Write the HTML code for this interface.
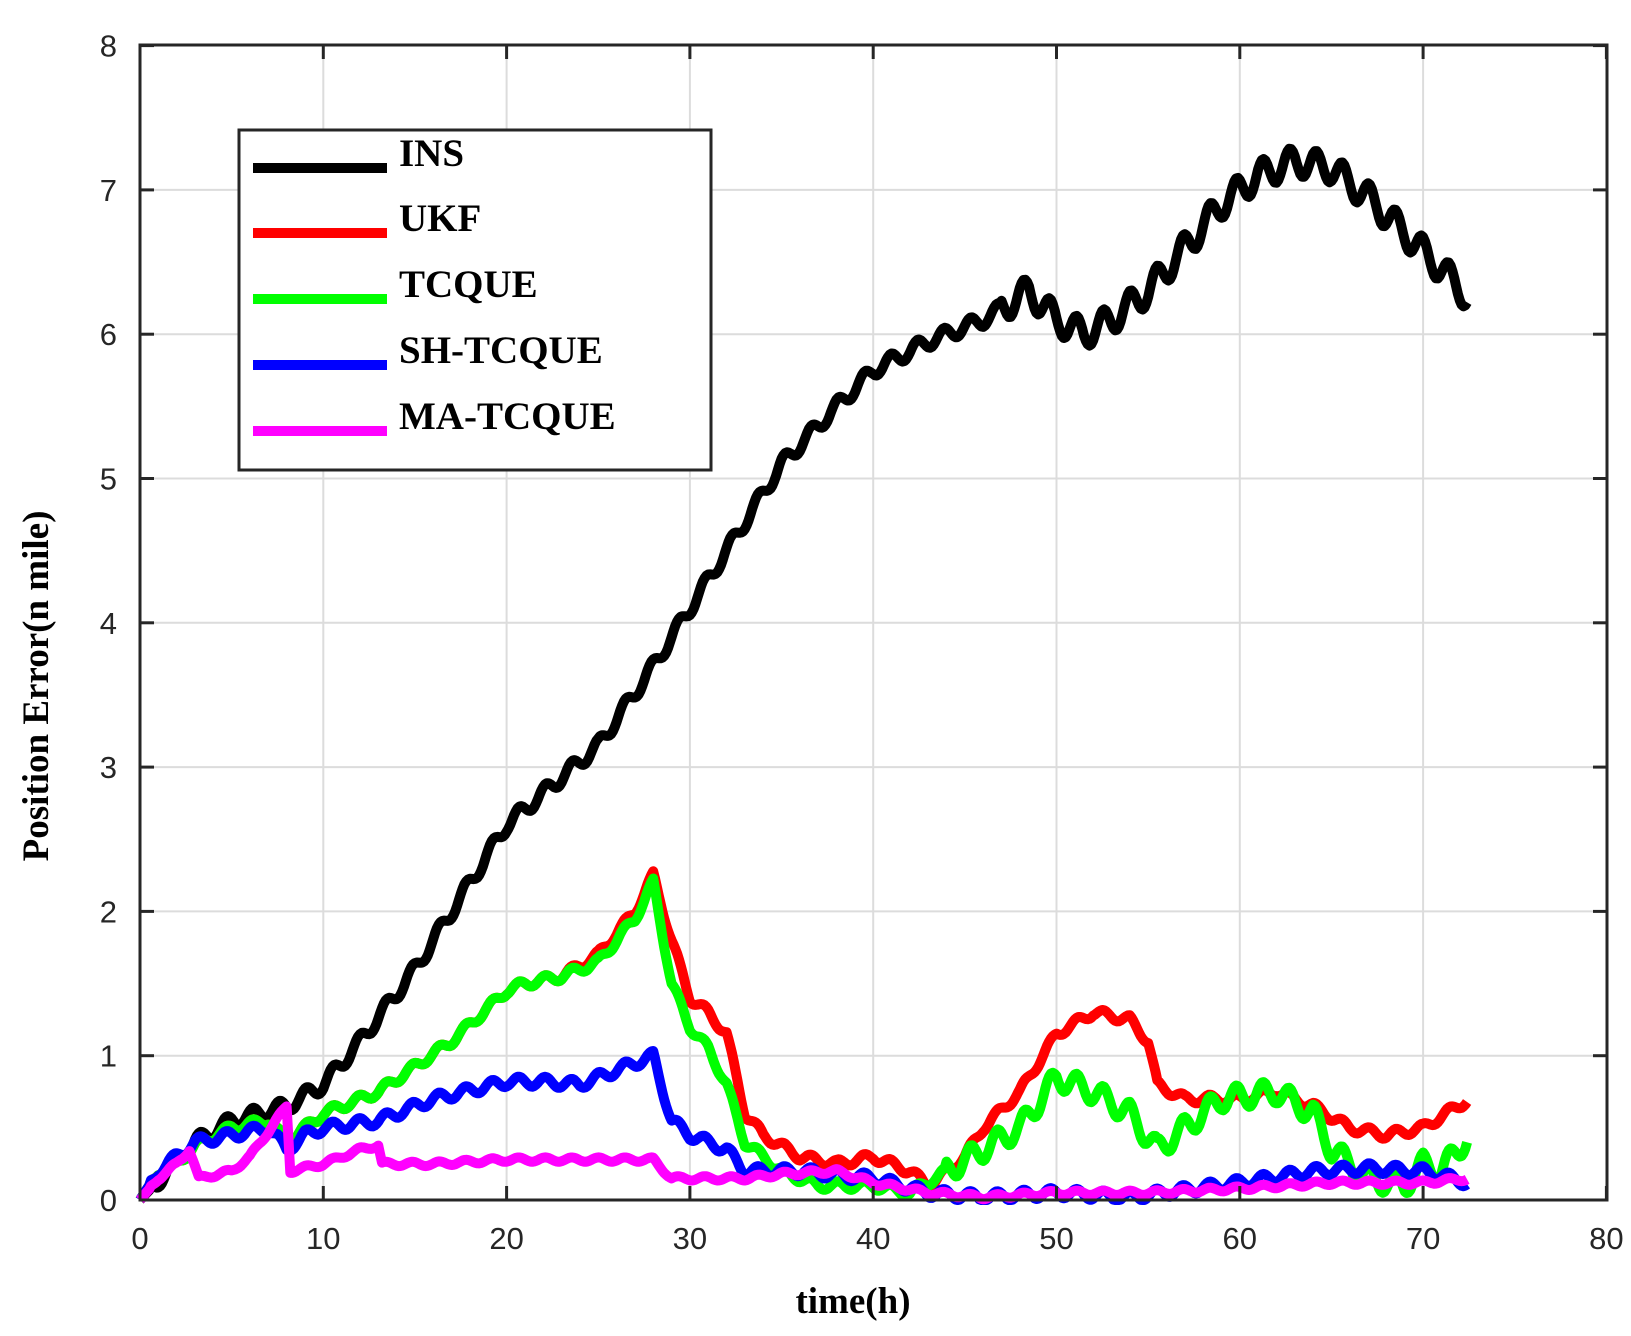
<!DOCTYPE html><html><head><style>body{margin:0;background:#fff}</style></head><body>
<svg id="s" width="1631" height="1331" xmlns="http://www.w3.org/2000/svg">
<g id="grid" stroke="#dcdcdc" stroke-width="2"></g>
<g id="ser" fill="none" stroke-width="10" stroke-linejoin="round" stroke-linecap="butt"></g>
<rect x="140" y="45" width="1467" height="1155" fill="none" stroke="#262626" stroke-width="3"/>
<g id="ticks" stroke="#262626" stroke-width="3"></g>
<g id="lab" font-family="Liberation Sans, sans-serif" font-size="31" fill="#262626"></g>
<text x="853" y="1313" font-family="Liberation Serif, serif" font-weight="bold" font-size="37" text-anchor="middle">time(h)</text>
<text transform="translate(48,686) rotate(-90)" font-family="Liberation Serif, serif" font-weight="bold" font-size="37" text-anchor="middle">Position Error(n mile)</text>
<rect x="239" y="130" width="472" height="340" fill="#fff" stroke="#262626" stroke-width="3"/>
<g font-family="Liberation Serif, serif" font-weight="bold" font-size="39">
<line x1="253" y1="168" x2="387" y2="168" stroke="#000" stroke-width="10"/><text x="399" y="166">INS</text>
<line x1="253" y1="233" x2="387" y2="233" stroke="#f00" stroke-width="10"/><text x="399" y="231">UKF</text>
<line x1="253" y1="299" x2="387" y2="299" stroke="#0f0" stroke-width="10"/><text x="399" y="297">TCQUE</text>
<line x1="253" y1="365" x2="387" y2="365" stroke="#00f" stroke-width="10"/><text x="399" y="363">SH-TCQUE</text>
<line x1="253" y1="431" x2="387" y2="431" stroke="#f0f" stroke-width="10"/><text x="399" y="429">MA-TCQUE</text>
</g>
</svg>
<script>
const X=t=>140+18.33*t, Y=v=>1200-144.3*v, NS="http://www.w3.org/2000/svg";
function el(p,n,a,txt){const e=document.createElementNS(NS,n);for(const k in a)e.setAttribute(k,a[k]);if(txt!=null)e.textContent=txt;document.getElementById(p).appendChild(e);}
for(let i=1;i<8;i++){el("grid","line",{x1:X(i*10),x2:X(i*10),y1:45,y2:1200});el("grid","line",{x1:140,x2:1607,y1:Y(i),y2:Y(i)});}
for(let i=0;i<=8;i++){el("ticks","line",{x1:X(i*10),x2:X(i*10),y1:1200,y2:1186});el("ticks","line",{x1:X(i*10),x2:X(i*10),y1:45,y2:59});
el("ticks","line",{x1:140,x2:154,y1:Y(i),y2:Y(i)});el("ticks","line",{x1:1593,x2:1607,y1:Y(i),y2:Y(i)});
el("lab","text",{x:X(i*10),y:1249,"text-anchor":"middle"},String(i*10));el("lab","text",{x:117,y:Y(i)+11,"text-anchor":"end"},String(i));}
function interp(k,t){for(let i=0;i<k.length-1;i++){if(t<=k[i+1][0]){const a=k[i],b=k[i+1];return a[1]+(b[1]-a[1])*(t-a[0])/(b[0]-a[0]);}}return k[k.length-1][1];}
function ser(k,col,amp,per){let d="";for(let t=0;t<=72.5;t+=0.1){let v=interp(k,t)+(t>0.5?amp(t)*Math.sin(2*Math.PI*t/per):0);if(v<0)v=0;d+=(d?"L":"M")+X(t).toFixed(1)+","+Y(v).toFixed(1);}el("ser","path",{d:d,stroke:col});}
const ins=[[0,0],[3,0.4],[5,0.55],[8,0.65],[10,0.8],[12,1.1],[15,1.6],[20,2.6],[25,3.15],[28,3.7],[30,4.1],[33,4.7],[35,5.1],[38,5.5],[40,5.75],[43,5.95],[46,6.1],[48.5,6.3],[50,6.1],[51.5,6.0],[53,6.1],[55,6.3],[57,6.6],[59,6.9],[61,7.1],[63,7.2],[65,7.15],[67,6.95],[69,6.7],[71,6.45],[72.5,6.25]];
const ukf=[[0,0],[1,0.2],[2,0.25],[3,0.38],[5,0.5],[7,0.55],[8,0.4],[9,0.5],[10,0.6],[13,0.75],[17,1.1],[20,1.45],[21,1.5],[23,1.55],[25,1.7],[27,2.0],[28,2.25],[29,1.8],[30,1.4],[31,1.3],[32,1.15],[33,0.6],[34,0.45],[36,0.3],[38,0.25],[40,0.3],[42,0.2],[43,0.1],[44,0.2],[45,0.3],[46,0.5],[48,0.75],[50,1.15],[52,1.3],[54,1.25],[55,1.1],[55.5,0.8],[57,0.7],[60,0.7],[62,0.75],[64,0.65],[66,0.5],[68,0.45],[70,0.5],[72.5,0.7]];
const tc=[[0,0],[1,0.2],[2,0.25],[3,0.38],[5,0.5],[7,0.55],[8,0.4],[9,0.5],[10,0.6],[13,0.75],[17,1.1],[20,1.45],[21,1.5],[23,1.55],[25,1.65],[27,1.95],[28,2.2],[29,1.5],[30,1.2],[31,1.05],[32,0.8],[33,0.4],[35,0.2],[37,0.1],[40,0.1],[42,0.05],[44,0.2],[46,0.35],[48,0.5],[50,0.85],[52,0.75],[54,0.6],[55.5,0.35],[57,0.5],[59,0.7],[62,0.75],[64,0.6],[65,0.35],[67,0.15],[69,0.1],[70,0.25],[71,0.2],[72.5,0.45]];
const sh=[[0,0],[1,0.2],[2,0.3],[3,0.4],[5,0.45],[7,0.5],[8,0.35],[9,0.45],[10,0.5],[13,0.55],[16,0.7],[20,0.82],[22,0.82],[24,0.8],[26,0.9],[28,1.0],[29,0.55],[30,0.45],[32,0.35],[33,0.2],[36,0.2],[40,0.15],[43,0.05],[46,0.02],[50,0.05],[54,0.02],[57,0.07],[60,0.12],[64,0.2],[67,0.22],[70,0.2],[72.5,0.12]];
const ma=[[0,0],[1,0.15],[2,0.25],[2.7,0.35],[3.2,0.15],[5,0.2],[6,0.3],[8,0.65],[8.2,0.2],[10,0.25],[11,0.3],[12,0.35],[13,0.38],[13.2,0.25],[16,0.25],[20,0.28],[25,0.28],[28,0.28],[29,0.15],[33,0.15],[35,0.18],[38,0.2],[40,0.12],[43,0.05],[46,0.02],[50,0.05],[55,0.05],[60,0.08],[65,0.12],[70,0.12],[72.5,0.15]];
ser(ins,"#000",t=>t>47?0.1:0.05,1.45);
ser(ukf,"#f00",t=>0.03,1.45);
ser(tc,"#0f0",t=>t>44?0.08:0.03,1.45);
ser(sh,"#00f",t=>0.035,1.45);
ser(ma,"#f0f",t=>0.015,1.45);
</script>
</body></html>
